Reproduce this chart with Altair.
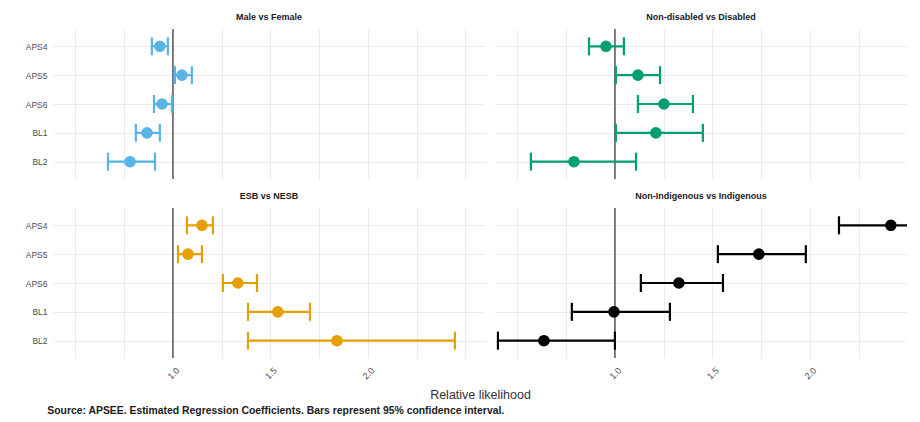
import altair as alt
import pandas as pd

measures = ["APS4", "APS5", "APS6", "BL1", "BL2"]
comparisons = ["Male vs Female", "Non-disabled vs Disabled", "ESB vs NESB", "Non-Indigenous vs Indigenous"]
colors = ["#56B4E9", "#009E73", "#E69F00", "#000000"]

est_male = [0.933, 1.046, 0.944, 0.867, 0.780]
lo_male = [0.892, 1.010, 0.903, 0.810, 0.667]
hi_male = [0.974, 1.097, 0.995, 0.933, 0.908]

est_dis = [0.954, 1.118, 1.251, 1.210, 0.790]
lo_dis = [0.867, 1.005, 1.118, 1.005, 0.569]
hi_dis = [1.046, 1.231, 1.400, 1.451, 1.108]

est_esb = [1.149, 1.077, 1.333, 1.538, 1.841]
lo_esb = [1.072, 1.026, 1.256, 1.385, 1.385]
hi_esb = [1.205, 1.149, 1.431, 1.703, 2.446]

est_ind = [2.415, 1.738, 1.328, 0.995, 0.636]
lo_ind = [2.149, 1.528, 1.133, 0.779, 0.400]
hi_ind = [2.720, 1.979, 1.554, 1.282, 1.000]

series = [
    (est_male, lo_male, hi_male),
    (est_dis, lo_dis, hi_dis),
    (est_esb, lo_esb, hi_esb),
    (est_ind, lo_ind, hi_ind),
]

rows = []
for comp, (e, l, h) in zip(comparisons, series):
    for m, ev, lv, hv in zip(measures, e, l, h):
        rows.append({"comp": comp, "measure": m, "est": ev, "lo": lv, "hi": hv})
df = pd.DataFrame(rows)

X_MIN = 0.385
PX_PER_UNIT = 195.0
grid_vals = [0.5, 0.75, 1.0, 1.25, 1.5, 1.75, 2.0, 2.25, 2.5]

PW_LEFT, PW_RIGHT, PH = 432, 412, 150


def panel(i, bottom):
    comp = comparisons[i]
    col = colors[i]
    pw = PW_LEFT if i % 2 == 0 else PW_RIGHT
    xs = alt.Scale(domain=[X_MIN, X_MIN + pw / PX_PER_UNIT], nice=False, zero=False)
    d = df[df["comp"] == comp]
    base = alt.Chart(d)
    if bottom:
        xaxis = alt.Axis(values=grid_vals,
                         labelExpr="(datum.value==1||datum.value==1.5||datum.value==2) ? format(datum.value, '.1f') : ''",
                         labelAngle=315, labelAlign="center", labelBaseline="middle", labelPadding=15,
                         labelFontSize=9, labelColor="#4D4D4D", ticks=False, domain=False,
                         gridColor="#EBEBEB", gridWidth=1,
                         title="Relative likelihood" if i == 2 else None,
                         titleFontSize=12.5, titleFontWeight="normal", titleColor="#333333",
                         titleX=427, titleAnchor="middle", titlePadding=8)
    else:
        xaxis = alt.Axis(values=grid_vals, labels=False, ticks=False, domain=False,
                         gridColor="#EBEBEB", gridWidth=1, title=None)
    if i % 2 == 0:
        yaxis = alt.Axis(title=None, ticks=False, domain=False, labelFontSize=8.5,
                         labelColor="#4D4D4D", labelPadding=6, grid=True, gridColor="#EBEBEB")
    else:
        yaxis = alt.Axis(title=None, ticks=False, domain=False, labels=False, grid=True, gridColor="#EBEBEB")
    ys = alt.Scale(type="point", padding=0.6)
    y = alt.Y("measure:N", sort=measures, scale=ys, axis=yaxis)

    ref = alt.Chart(pd.DataFrame({"v": [1.0]})).mark_rule(color="#555555", strokeWidth=1.5).encode(
        x=alt.X("v:Q", scale=xs, axis=xaxis))
    line = base.mark_rule(color=col, strokeWidth=2.2, clip=True).encode(
        x=alt.X("lo:Q", scale=xs, axis=xaxis), x2="hi:Q", y=y)
    cap_lo = base.mark_tick(color=col, thickness=2.2, size=18, clip=True, opacity=1).encode(
        x=alt.X("lo:Q", scale=xs, axis=xaxis), y=y)
    cap_hi = base.mark_tick(color=col, thickness=2.2, size=18, clip=True, opacity=1).encode(
        x=alt.X("hi:Q", scale=xs, axis=xaxis), y=y)
    pts = base.mark_circle(color=col, size=135, opacity=1, clip=True).encode(
        x=alt.X("est:Q", scale=xs, axis=xaxis), y=y)
    return alt.layer(ref, line, cap_lo, cap_hi, pts).properties(
        width=pw, height=PH,
        title=alt.TitleParams(comp, fontSize=9, fontWeight="bold", color="#1A1A1A", anchor="middle", offset=6))


chart = alt.concat(panel(0, False), panel(1, False), panel(2, True), panel(3, True),
                   columns=2, spacing={"row": 29, "column": 10}, bounds="flush").properties(
    padding={"left": 17, "top": 5, "right": 0, "bottom": 0},
    title=alt.TitleParams("Source: APSEE. Estimated Regression Coefficients. Bars represent 95% confidence interval.",
                          orient="bottom", anchor="start", fontSize=10.4, fontWeight="bold", color="#1A1A1A",
                          offset=5, dx=22)
).configure_view(stroke=None)

chart.save("out.html", embed_options={"renderer": "svg", "actions": False})
